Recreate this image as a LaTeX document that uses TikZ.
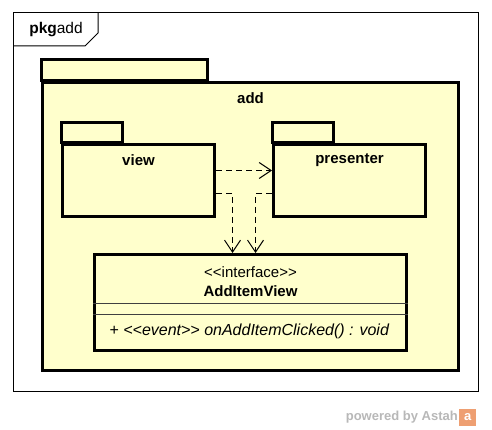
\documentclass[tikz,border=0pt]{standalone}
\usepackage{fontspec}
\setmainfont{Liberation Sans}
\usetikzlibrary{positioning, arrows.meta}
\definecolor{pkgyellow}{HTML}{FFFFCC}
\definecolor{astahgray}{HTML}{B8B8B8}
\definecolor{astahorange}{HTML}{EE9F72}

\begin{document}
\begin{tikzpicture}[x=1pt,y=-1pt,
  pkgline/.style={draw=black, line width=3pt, fill=pkgyellow},
  pkgbody/.style={pkgline, rectangle, anchor=north west, inner sep=0pt},
  pkgname/.style={font=\fontsize{15}{18}\selectfont\bfseries},
  classtext/.style={font=\fontsize{15}{18}\selectfont},
  depend/.style={draw=black, line width=1pt, dash pattern=on 6pt off 4pt,
    -{Straight Barb[length=12pt,width=16pt,line width=1pt]}}]
\useasboundingbox[fill=white] (0,0) rectangle (492,430);

% frame
\draw[line width=1pt] (13,13) rectangle (478,391);
\draw[line width=1pt] (13,46) -- (85,46) -- (98,33) -- (98,13);
\node[font=\fontsize{15.5}{18}\selectfont] (framename) at (56,30) {\textbf{pkg}add};

% package add
\draw[pkgline] (41,60) rectangle (207,81);
\node[pkgbody, minimum width=416, minimum height=288] (add) at (41,81) {};
\node[pkgname] (addname) at ([yshift=-17pt]add.north) {add};

% package view
\draw[pkgline] (61,123) rectangle (122,143);
\node[pkgbody, minimum width=152, minimum height=72] (view) at (61,143) {};
\node[pkgname] (viewname) at ([yshift=-17pt]view.north) {view};

% package presenter
\draw[pkgline] (272,123) rectangle (333,143);
\node[pkgbody, minimum width=152, minimum height=72] (presenter) at (272,143) {};
\node[pkgname] (presentername) at ([yshift=-17pt]presenter.north) {presenter};

% interface
\node[pkgbody, minimum width=312, minimum height=96] (iface) at (93,253) {};
\node[classtext] (stereo) at ([yshift=-19pt]iface.north) {<{}<interface>{}>};
\node[pkgname] (ifacename) at ([yshift=-38pt]iface.north) {AddItemView};
\draw[line width=1pt, black!75] ([yshift=-50pt]iface.north west) -- ([yshift=-50pt]iface.north east);
\draw[line width=1pt, black!75] ([yshift=-61pt]iface.north west) -- ([yshift=-61pt]iface.north east);
\node[font=\fontsize{16}{18}\selectfont, anchor=west] (op) at ([xshift=13pt,yshift=-78pt]iface.north west)
  {+ \itshape <{}<event>{}> onAddItemClicked() : void};

% dependencies
\draw[depend] ([yshift=10pt]view.east) -- ([yshift=10pt]presenter.west);
\draw[depend] ([yshift=-13pt]view.east) -| ([xshift=-18pt]iface.north);
\draw[depend] ([yshift=-13pt]presenter.west) -| ([xshift=5pt]iface.north);

% footer
\node[font=\fontsize{13}{15}\selectfont\bfseries, text=astahgray, anchor=east,
  inner sep=0pt] (powered) at (458,417) {powered by Astah};
\node[fill=astahorange, text=white, minimum size=17pt, inner sep=0pt, anchor=west,
  font=\fontsize{13}{15}\selectfont\bfseries] (logo) at ([xshift=1pt]powered.east) {a};
\end{tikzpicture}
\end{document}
